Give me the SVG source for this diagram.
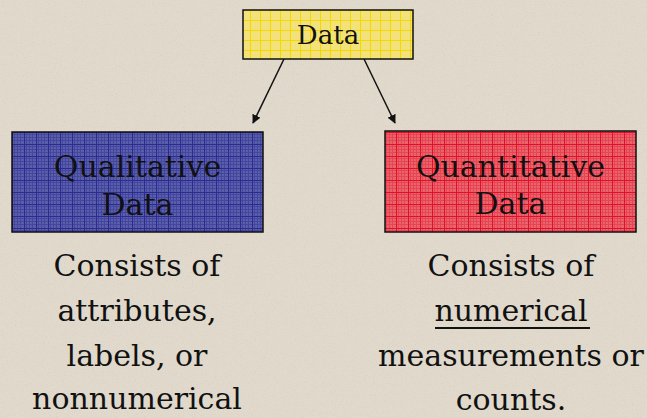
<svg xmlns="http://www.w3.org/2000/svg" width="647" height="418" viewBox="0 0 647 418">
<style>
text{font-family:'DejaVu Serif',serif;fill:#111;text-anchor:middle}
.box{stroke:#111;stroke-width:1.5}
.conn{stroke:#111;stroke-width:1.5;fill:none}
</style>
<defs>
<pattern id="py" width="10" height="10" patternUnits="userSpaceOnUse">
<rect width="10" height="10" fill="#f3e27c"/>
<path d="M0 0.5H10M0.5 0V10" stroke="#f2d900" stroke-width="1"/>
</pattern>
<pattern id="pb" width="12" height="12" patternUnits="userSpaceOnUse">
<rect width="12" height="12" fill="#5a5ea8"/>
<path d="M0 2.5H12M0 5.5H12M0 8.5H12M2.5 0V12M5.5 0V12M8.5 0V12" stroke="#44479f" stroke-width="1"/>
<path d="M0 0.5H12M0.5 0V12" stroke="#2a2a90" stroke-width="1"/>
</pattern>
<pattern id="pr" width="12" height="12" patternUnits="userSpaceOnUse">
<rect width="12" height="12" fill="#e8646c"/>
<path d="M0 2.5H12M0 5.5H12M0 8.5H12M2.5 0V12M5.5 0V12M8.5 0V12" stroke="#e84452" stroke-width="1"/>
<path d="M0 0.5H12M0.5 0V12" stroke="#e01028" stroke-width="1"/>
</pattern>
<filter id="noise" x="0" y="0" width="100%" height="100%">
<feTurbulence type="fractalNoise" baseFrequency="0.9" numOctaves="2" seed="3" result="n"/>
<feColorMatrix in="n" type="matrix" values="0 0 0 0 0.55  0 0 0 0 0.5  0 0 0 0 0.42  0 0 0 -1.6 0.75" result="d"/>
<feComposite in="d" in2="SourceGraphic" operator="in"/>
</filter>
<marker id="ah" viewBox="0 0 10 10" refX="9" refY="5" markerWidth="9" markerHeight="9" orient="auto" markerUnits="userSpaceOnUse">
<path d="M0 0L10 5L0 10z" fill="#111"/>
</marker>
</defs>
<rect width="647" height="418" fill="#e0d9cc"/>
<rect width="647" height="418" fill="#e0d9cc" filter="url(#noise)" opacity="0.5"/>
<g id="connectors">
<line class="conn" x1="284" y1="59" x2="253" y2="123" marker-end="url(#ah)"/>
<line class="conn" x1="364" y1="59" x2="395" y2="123" marker-end="url(#ah)"/>
</g>
<g id="data">
<rect class="box" x="243" y="10" width="170" height="49" fill="url(#py)"/>
<text x="328" y="44" font-size="26">Data</text>
</g>
<g id="qualitative" font-size="30">
<rect class="box" x="12" y="132" width="251" height="100" fill="url(#pb)"/>
<text x="137.5" y="177">Qualitative</text>
<text x="137.5" y="215">Data</text>
</g>
<g id="quantitative" font-size="30">
<rect class="box" x="385" y="131" width="251" height="101" fill="url(#pr)"/>
<text x="510.5" y="177">Quantitative</text>
<text x="510.5" y="214">Data</text>
</g>
<g id="qual-desc" font-size="30">
<text x="137" y="276">Consists of</text>
<text x="137" y="321">attributes,</text>
<text x="137" y="366">labels, or</text>
<text x="137" y="409">nonnumerical</text>
</g>
<g id="quant-desc" font-size="30">
<text x="511" y="276">Consists of</text>
<text x="511" y="321">numerical</text>
<line x1="435" y1="328" x2="590" y2="328" stroke="#111" stroke-width="2"/>
<text x="511" y="366">measurements or</text>
<text x="511" y="410">counts.</text>
</g>
</svg>
